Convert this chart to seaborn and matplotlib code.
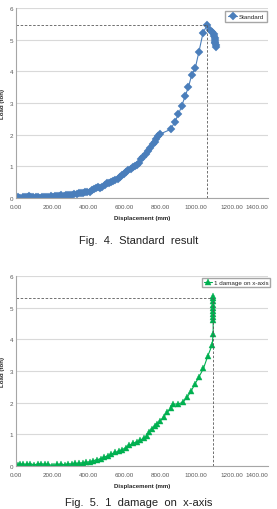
import matplotlib
matplotlib.use("Agg")
import matplotlib.pyplot as plt
import seaborn as sns

# Standard result (Fig. 4)
std_x = [0, 12, 24, 36, 48, 60, 72, 84, 96, 108,
         120, 132, 144, 156, 168, 180, 192, 204, 216, 228,
         240, 252, 264, 276, 288, 300, 312, 324, 336, 348,
         360, 372, 384, 396, 408, 420, 432, 444, 456, 468,
         480, 492, 504, 516, 528, 540, 552, 564, 576, 588,
         600, 612, 624, 636, 648, 660, 672, 684, 696, 708,
         720, 733, 746, 759, 770, 780, 790, 800, 860, 882,
         902, 921, 939, 958, 976, 996, 1016, 1039, 1061, 1079,
         1090, 1098, 1102, 1104, 1106, 1107, 1108, 1109, 1110]
std_y = [0.00, 0.02, 0.01, 0.03, 0.02, 0.04, 0.05, 0.03, 0.04, 0.02,
         0.03, 0.01, 0.02, 0.03, 0.02, 0.04, 0.05, 0.04, 0.06, 0.07,
         0.05, 0.08, 0.07, 0.09, 0.08, 0.11, 0.10, 0.13, 0.12, 0.15,
         0.17, 0.16, 0.19, 0.18, 0.20, 0.25, 0.29, 0.33, 0.34, 0.32,
         0.36, 0.40, 0.46, 0.48, 0.52, 0.55, 0.57, 0.61, 0.66, 0.72,
         0.77, 0.82, 0.87, 0.92, 0.97, 1.01, 1.05, 1.10, 1.22, 1.30,
         1.38, 1.49, 1.57, 1.69, 1.78, 1.87, 1.95, 2.02, 2.17, 2.41,
         2.64, 2.92, 3.21, 3.51, 3.89, 4.11, 4.62, 5.22, 5.45, 5.29,
         5.24, 5.18, 5.12, 5.06, 5.00, 4.94, 4.88, 4.82, 4.77]
std_peak_x, std_peak_y = 1063, 5.45

# 1 damage on x-axis (Fig. 5)
dmg_x = [0, 10, 20, 40, 60, 80, 100, 120, 140, 160,
         180, 200, 210, 230, 250, 270, 290, 310, 330, 350,
         370, 390, 410, 430, 450, 470, 490, 510, 530, 550,
         570, 590, 610, 630, 650, 670, 690, 710, 725, 740,
         755, 770, 785, 800, 820, 840, 860, 873, 900, 926,
         950, 972, 994, 1015, 1041, 1065, 1089, 1095, 1095, 1095,
         1095, 1095, 1095, 1095, 1095, 1095, 1095]
dmg_y = [0.00, 0.03, 0.05, 0.06, 0.05, 0.07, 0.04, 0.06, 0.07, 0.05,
         0.06, 0.01, 0.00, 0.05, 0.06, 0.04, 0.07, 0.06, 0.08, 0.09,
         0.10, 0.12, 0.13, 0.17, 0.20, 0.23, 0.28, 0.32, 0.38, 0.43,
         0.46, 0.52, 0.58, 0.66, 0.72, 0.76, 0.82, 0.88, 0.94, 1.08,
         1.18, 1.26, 1.34, 1.42, 1.55, 1.70, 1.82, 1.95, 1.96, 2.01,
         2.17, 2.36, 2.59, 2.80, 3.08, 3.47, 3.82, 4.17, 4.60, 4.70,
         4.80, 4.90, 5.00, 5.10, 5.20, 5.30, 5.38]
dmg_peak_x, dmg_peak_y = 1095, 5.30

x_ticks = [0, 200, 400, 600, 800, 1000, 1200, 1400]
y_ticks = [0, 1, 2, 3, 4, 5, 6]

sns.set_style("white")
plt.rcParams["font.family"] = ["Liberation Sans", "DejaVu Sans"]

fig = plt.figure(figsize=(2.77, 5.10), dpi=100)
ax_top = fig.add_axes([0.058, 0.6098, 0.9097, 0.3726])
ax_bot = fig.add_axes([0.058, 0.0843, 0.9097, 0.3725])


def style_axes(ax):
    ax.set_xlim(0, 1400)
    ax.set_ylim(0, 6)
    ax.set_xticks(x_ticks)
    ax.set_xticklabels([f"{t:.2f}" for t in x_ticks])
    # last label would run off the right edge of the page
    ax.get_xticklabels()[-1].set_ha("right")
    ax.set_yticks(y_ticks)
    ax.yaxis.grid(True, color="#d9d9d9", linewidth=0.8)
    ax.xaxis.grid(False)
    ax.set_axisbelow(True)
    for s in ["top", "right"]:
        ax.spines[s].set_visible(False)
    for s in ["left", "bottom"]:
        ax.spines[s].set_color("#a6a6a6")
        ax.spines[s].set_linewidth(0.8)
    ax.tick_params(axis="both", labelsize=4.5, colors="#595959", pad=2)
    ax.tick_params(axis="x", length=2, width=0.6, color="#a6a6a6")
    ax.tick_params(axis="y", length=0)
    ax.set_xlabel("Displacement (mm)", fontsize=4.4, fontweight="bold", color="#262626")
    ax.set_ylabel("Load (ton)", fontsize=4.4, fontweight="bold", color="#262626")
    ax.xaxis.set_label_coords(0.5, -0.09)
    ax.yaxis.set_label_coords(-0.045, 0.5)


def peak_lines(ax, px, py):
    ax.plot([0, px], [py, py], color="#595959", linestyle=(0, (3, 2)), linewidth=0.6)
    ax.plot([px, px], [0, py], color="#595959", linestyle=(0, (3, 2)), linewidth=0.6)


sns.lineplot(x=std_x, y=std_y, ax=ax_top, sort=False, estimator=None,
             color="#4a7ebb", marker="D", markersize=3.6, markeredgewidth=0.3,
             markeredgecolor="#4a7ebb", linewidth=0.8, label="Standard")
peak_lines(ax_top, std_peak_x, std_peak_y)
style_axes(ax_top)
ax_top.legend(loc="upper right", bbox_to_anchor=(0.995, 0.985), fontsize=4.5,
              frameon=True, fancybox=False, edgecolor="#a6a6a6", framealpha=1,
              handlelength=1.4, borderpad=0.5, handletextpad=0.2, borderaxespad=0)

sns.lineplot(x=dmg_x, y=dmg_y, ax=ax_bot, sort=False, estimator=None,
             color="#00b050", marker="^", markersize=4, markeredgewidth=0.3,
             markeredgecolor="#00b050", linewidth=0.8, label="1 damage on x-axis")
peak_lines(ax_bot, dmg_peak_x, dmg_peak_y)
style_axes(ax_bot)
ax_bot.legend(loc="upper right", bbox_to_anchor=(1.008, 0.99), fontsize=4.5,
              frameon=True, fancybox=False, edgecolor="#a6a6a6", framealpha=1,
              handlelength=1.4, borderpad=0.3, handletextpad=0.2, borderaxespad=0)

fig.text(0.5, 0.5216, "Fig.  4.  Standard  result", ha="center", va="baseline",
         fontsize=8, color="#222222")
fig.text(0.5, 0.003, "Fig.  5.  1  damage  on  x-axis", ha="center", va="bottom",
         fontsize=8, color="#222222")

fig.savefig("out.png", dpi=100)
